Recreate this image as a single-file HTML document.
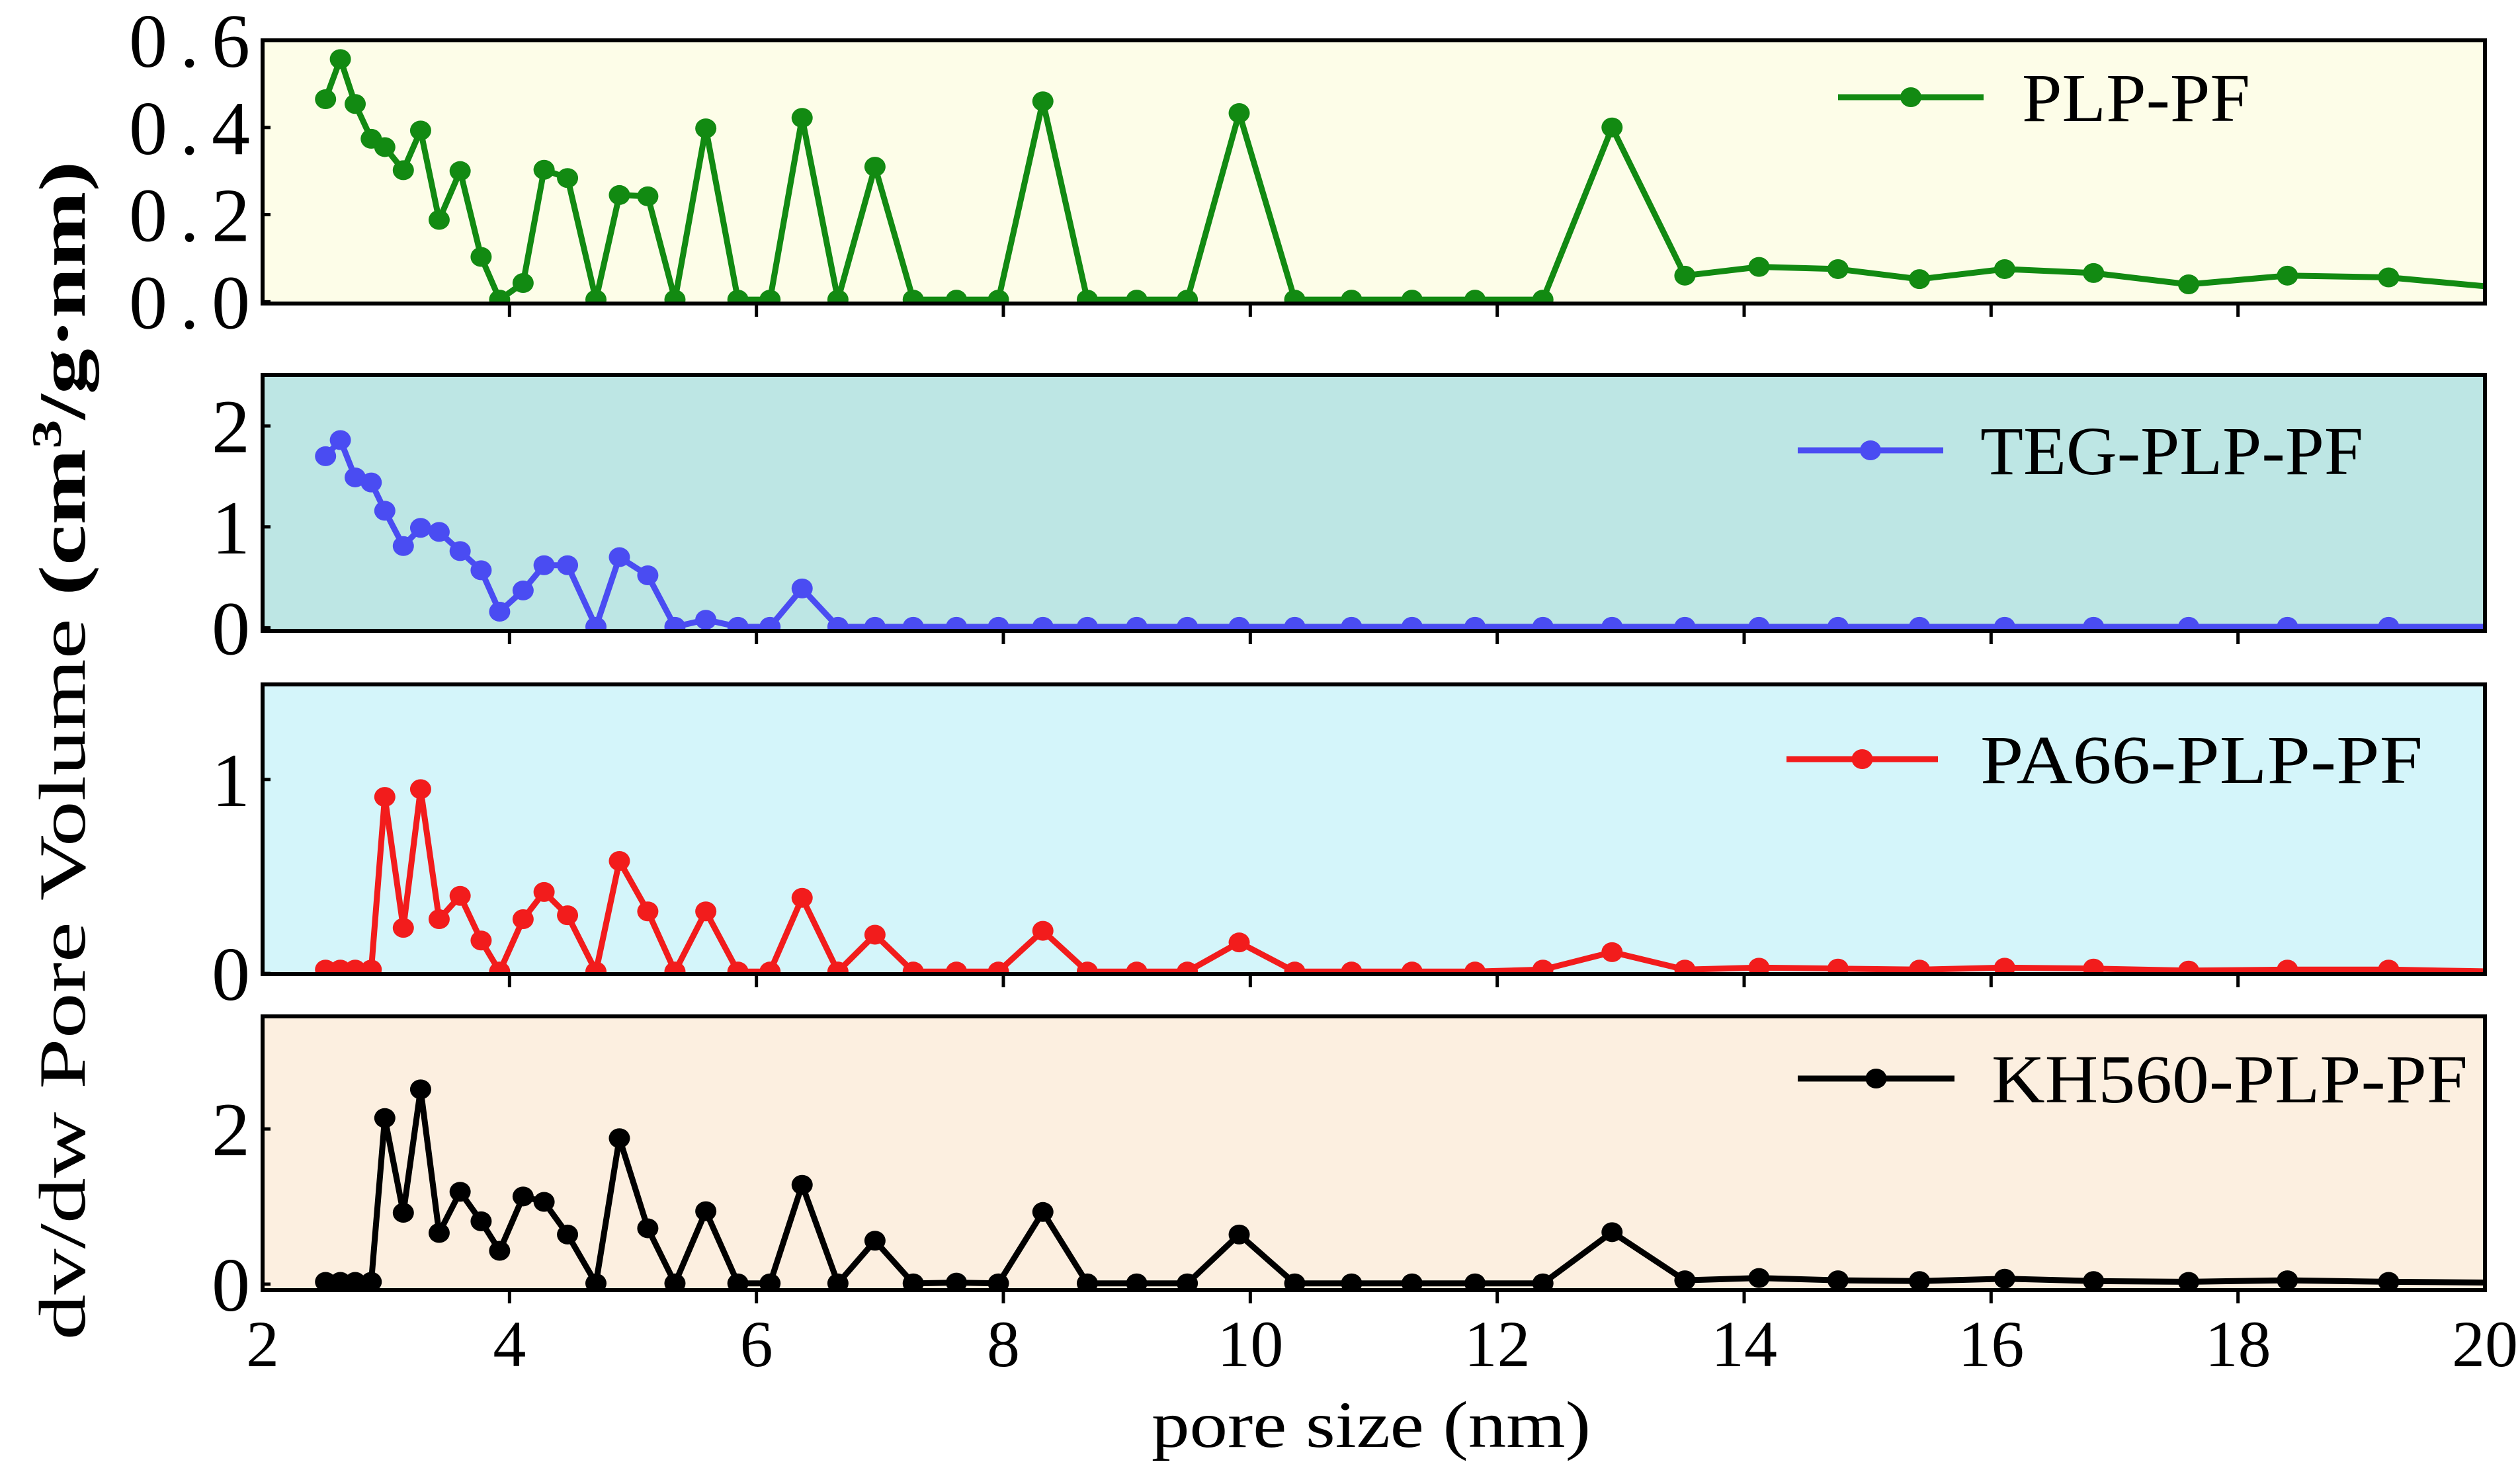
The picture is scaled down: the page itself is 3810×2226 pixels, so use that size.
<!DOCTYPE html>
<html><head><meta charset="utf-8"><style>
html,body{margin:0;padding:0;background:#fff;}
svg{display:block;font-family:"Liberation Serif","Times New Roman",Tinos,Times,serif;}
</style></head><body>
<svg id="chart" width="3810" height="2226" viewBox="0 0 3810 2226" xmlns="http://www.w3.org/2000/svg">
<rect width="3810" height="2226" fill="#fff"/>
<g id="plots"></g>
<text transform="translate(128,1135) rotate(-90)" text-anchor="middle" font-size="100" textLength="1783" lengthAdjust="spacingAndGlyphs">dv/dw Pore Volume <tspan font-weight="bold">(cm<tspan dy="-36" font-size="64">3</tspan><tspan dy="36">/g·nm)</tspan></tspan></text>
<text x="2073" y="2188" text-anchor="middle" font-size="100" textLength="664" lengthAdjust="spacingAndGlyphs">pore size (nm)</text>
</svg>
<script>
const xValues=[2.51,2.63,2.75,2.88,2.99,3.14,3.28,3.43,3.60,3.77,3.92,4.11,4.28,4.47,4.70,4.89,5.12,5.34,5.59,5.85,6.11,6.37,6.66,6.96,7.27,7.62,7.96,8.32,8.68,9.08,9.49,9.91,10.36,10.82,11.31,11.82,12.37,12.93,13.52,14.12,14.76,15.42,16.11,16.83,17.60,18.40,19.22,20.1];
const plpValues=[0.465,0.557,0.454,0.374,0.355,0.302,0.393,0.188,0.300,0.103,0.005,0.043,0.303,0.284,0.005,0.245,0.242,0.005,0.398,0.005,0.005,0.422,0.005,0.310,0.005,0.005,0.005,0.460,0.005,0.005,0.005,0.433,0.005,0.005,0.005,0.005,0.005,0.400,0.060,0.080,0.075,0.052,0.075,0.066,0.040,0.060,0.056,0.033];
const tegValues=[1.70,1.86,1.49,1.44,1.16,0.81,0.99,0.95,0.76,0.57,0.16,0.37,0.62,0.62,0.01,0.70,0.52,0.01,0.08,0.01,0.01,0.39,0.01,0.01,0.01,0.01,0.01,0.01,0.01,0.01,0.01,0.01,0.01,0.01,0.01,0.01,0.01,0.01,0.01,0.01,0.01,0.01,0.01,0.01,0.01,0.01,0.01,0.01];
const pa66Values=[0.02,0.02,0.02,0.02,0.91,0.235,0.95,0.28,0.40,0.17,0.01,0.28,0.42,0.30,0.01,0.58,0.32,0.01,0.32,0.01,0.01,0.39,0.01,0.20,0.01,0.01,0.01,0.22,0.01,0.01,0.01,0.16,0.01,0.01,0.01,0.01,0.02,0.11,0.02,0.03,0.025,0.02,0.03,0.025,0.015,0.02,0.02,0.01];
const kh560Values=[0.03,0.03,0.03,0.03,2.14,0.92,2.51,0.66,1.19,0.81,0.43,1.13,1.06,0.64,0.01,1.88,0.72,0.01,0.94,0.01,0.01,1.28,0.01,0.56,0.01,0.02,0.01,0.93,0.01,0.01,0.01,0.64,0.01,0.01,0.01,0.01,0.01,0.67,0.05,0.08,0.05,0.04,0.07,0.04,0.03,0.05,0.03,0.02];
const seriesNames=["PLP-PF","TEG-PLP-PF","PA66-PLP-PF","KH560-PLP-PF"];
const xTicks=[2,4,6,8,10,12,14,16,18,20];
const yTicks1=["0.0","0.2","0.4","0.6"];
const yTicks2=["0","1","2"];
const yTicks3=["0","1"];
const yTicks4=["0","2"];

const NS="http://www.w3.org/2000/svg";
const X0=397,X1=3757,XMIN=2,XMAX=20;
function xs(v){return X0+(v-XMIN)/(XMAX-XMIN)*(X1-X0);}
const panels=[
 {top:61,bot:459,ymin:-0.004,ymax:0.6,vals:plpValues,ticks:yTicks1,color:"#128a12",bg:"#fdfde8",name:"plp-pf",leg:{l1:2779,l2:2999,y:147,tx:3057,tw:345},tlw:183},
 {top:567,bot:954,ymin:-0.03,ymax:2.505,vals:tegValues,ticks:yTicks2,color:"#4a4cf2",bg:"#bde6e4",name:"teg-plp-pf",leg:{l1:2718,l2:2938,y:681,tx:2994,tw:579},tlw:0},
 {top:1035,bot:1473,ymin:-0.003,ymax:1.49,vals:pa66Values,ticks:yTicks3,color:"#f21c1c",bg:"#d4f5fa",name:"pa66-plp-pf",leg:{l1:2701,l2:2930,y:1148,tx:2994,tw:669},tlw:0},
 {top:1537,bot:1951,ymin:-0.077,ymax:3.45,vals:kh560Values,ticks:yTicks4,color:"#000000",bg:"#fcefe0",name:"kh560-plp-pf",leg:{l1:2718,l2:2955,y:1631,tx:3011,tw:720},tlw:0}
];
const root=document.getElementById('plots');
function mk(tag,attrs,parent){const e=document.createElementNS(NS,tag);for(const k in attrs)e.setAttribute(k,attrs[k]);(parent||root).appendChild(e);return e;}
panels.forEach((p,i)=>{
 const ys=v=>p.bot-(v-p.ymin)/(p.ymax-p.ymin)*(p.bot-p.top);
 const g=mk('g',{});
 
 
 const bg=mk('rect',{x:X0,y:p.top,width:X1-X0,height:p.bot-p.top,fill:p.bg},g);
 
 
 const cid='clip'+i;
 const cp=mk('clipPath',{id:cid},g);
 mk('rect',{x:X0,y:p.top,width:X1-X0,height:p.bot-p.top},cp);
 const sg=mk('g',{'clip-path':'url(#'+cid+')'},g);
 let d='';
 xValues.forEach((x,j)=>{d+=(j?'L':'M')+xs(x).toFixed(1)+' '+ys(p.vals[j]).toFixed(1);});
 const line=mk('path',{d:d,fill:'none',stroke:p.color,'stroke-width':9,'stroke-linejoin':'round'},sg);
 
 
 xValues.forEach((x,j)=>{
  const c=mk('ellipse',{cx:xs(x),cy:ys(p.vals[j]),rx:16,ry:15,fill:p.color},sg);
  
  
 });
 const fr=mk('rect',{x:X0,y:p.top,width:X1-X0,height:p.bot-p.top,fill:'none',stroke:'#000','stroke-width':6},g);
 
 
 xTicks.forEach(t=>{
  if(t===2||t===20)return;
  const tk=mk('line',{x1:xs(t),x2:xs(t),y1:p.bot,y2:p.bot+20,stroke:'#000','stroke-width':5},g);
  
  
 });
 p.ticks.forEach(t=>{
  const v=parseFloat(t),y=ys(v);
  const tk=mk('line',{x1:X0,x2:X0+12,y1:y,y2:y,stroke:'#000','stroke-width':5},g);
  
  
  const at={x:378,y:y+40,'text-anchor':'end','font-size':116};
  if(p.tlw){at.textLength=p.tlw;at.lengthAdjust='spacing';}
  const tl=mk('text',at,g);
  tl.textContent=t;
  
  
 });
 const lg=mk('g',{},g);
 
 
 mk('line',{x1:p.leg.l1,x2:p.leg.l2,y1:p.leg.y,y2:p.leg.y,stroke:p.color,'stroke-width':9},lg);
 mk('ellipse',{cx:(p.leg.l1+p.leg.l2)/2,cy:p.leg.y,rx:16,ry:15,fill:p.color},lg);
 const lt=mk('text',{x:p.leg.tx,y:p.leg.y+36,'font-size':104,textLength:p.leg.tw,lengthAdjust:'spacingAndGlyphs'},lg);
 lt.textContent=seriesNames[i];
});
xTicks.forEach(t=>{
 const tl=mk('text',{x:xs(t),y:2066,'text-anchor':'middle','font-size':100});
 tl.textContent=String(t);
 
 
});
</script>
</body></html>
